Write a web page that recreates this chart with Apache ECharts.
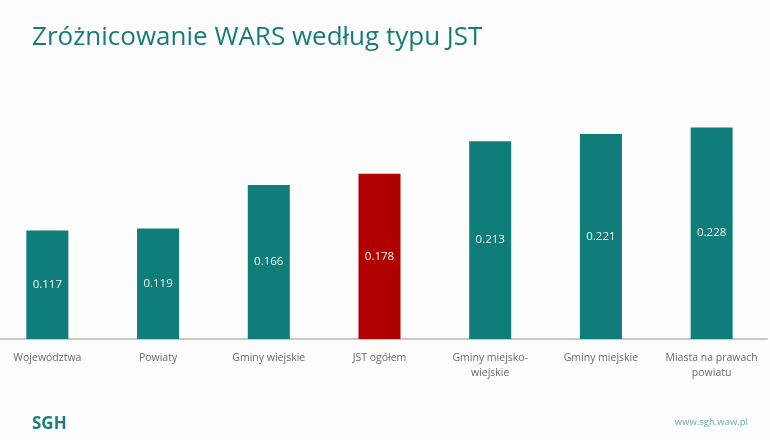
<!DOCTYPE html>
<html>
<head>
<meta charset="utf-8">
<script src="https://cdn.jsdelivr.net/npm/echarts@6/dist/echarts.min.js"></script>
<style>
  html, body { margin: 0; padding: 0; background: #fdfdfd; }
  #chart { width: 770px; height: 440px; }
</style>
</head>
<body>
<div id="chart"></div>
<script>
// Zróżnicowanie WARS wg typu JST – słupki, JST ogółem wyróżnione na czerwono
const categories = [
  'Województwa',
  'Powiaty',
  'Gminy wiejskie',
  'JST ogółem',
  'Gminy miejsko-\nwiejskie',
  'Gminy miejskie',
  'Miasta na prawach\npowiatu'
]
const values = [0.117, 0.119, 0.166, 0.178, 0.213, 0.221, 0.228]
const highlight = 'JST ogółem'

const TEAL = '#0f7d79'
const RED = '#b00000'
const FONT = '"Open Sans", "Noto Sans", sans-serif'

const chart = echarts.init(document.getElementById('chart'))

chart.setOption({
  backgroundColor: '#fdfdfd',
  textStyle: { fontFamily: FONT },
  title: [
    {
      text: 'Zróżnicowanie WARS według typu JST',
      left: 27,
      top: 20,
      textStyle: { color: '#177c77', fontSize: 26, fontWeight: 'normal', fontFamily: FONT }
    },
    {
      text: 'SGH',
      left: 27,
      top: 411,
      textStyle: { color: '#1a7f7b', fontSize: 17, fontWeight: 'bold', fontFamily: FONT }
    },
    {
      text: 'www.sgh.waw.pl',
      right: 17,
      top: 412,
      textStyle: { color: '#6fa8a6', fontSize: 9.5, fontWeight: 'normal', fontFamily: FONT }
    }
  ],
  // etykiety osi mogą wychodzić poza kontener – wyłączamy outerBounds z v6
  grid: { left: -8, width: 775, top: 107, bottom: 101, outerBoundsMode: 'none' },
  xAxis: {
    type: 'category',
    data: categories,
    axisTick: { show: false },
    axisLine: { lineStyle: { color: '#c8c8c8', width: 2 } },
    axisLabel: {
      color: '#6a6a6a',
      fontSize: 10.5,
      margin: 12,
      lineHeight: 15,
      interval: 0,
      fontFamily: FONT
    }
  },
  yAxis: {
    type: 'value',
    min: 0,
    max: 0.25,
    show: false,
    splitLine: { show: false }
  },
  series: [
    {
      type: 'bar',
      barWidth: 42,
      data: values.map((v, i) => ({
        value: v,
        itemStyle: { color: categories[i] === highlight ? RED : TEAL }
      })),
      label: {
        show: true,
        position: 'inside',
        color: '#f4f4f4',
        fontSize: 11.5,
        fontFamily: FONT,
        formatter: (p) => p.value.toFixed(3)
      }
    }
  ]
})
</script>
</body>
</html>
